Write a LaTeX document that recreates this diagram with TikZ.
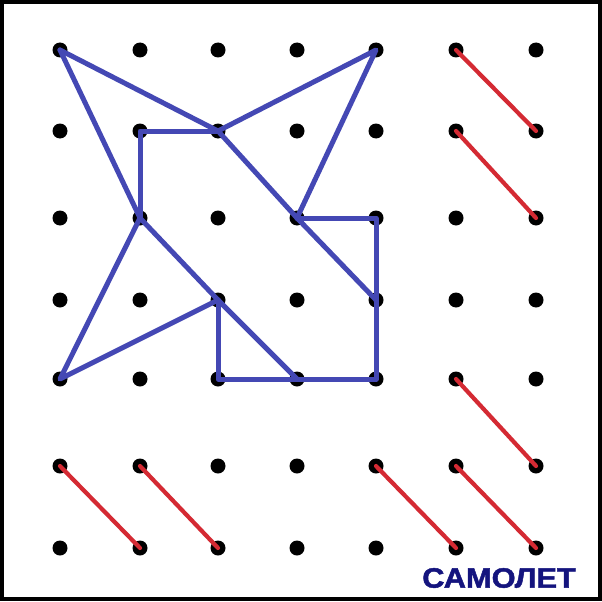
\documentclass[tikz,border=0pt]{standalone}
\usepackage{fontspec}
\setmainfont{Liberation Sans}
\newfontfamily\heavyfont[FakeBold=1.6]{Liberation Sans Bold}
\begin{document}
\begin{tikzpicture}[x=1pt,y=-1pt,
  dotst/.style={circle,fill=black,inner sep=0pt,minimum size=15pt},
  blueln/.style={draw=bluec,line width=5pt,line cap=round,line join=round},
  redln/.style={draw=redc,line width=4.2pt,line cap=round},
  frame/.style={draw=black,line width=4pt}]
\definecolor{bluec}{HTML}{4448B4}
\definecolor{redc}{HTML}{D42A33}
\definecolor{navy}{HTML}{14147E}
\useasboundingbox (0,0) rectangle (602,602);
\fill[white] (0,0) rectangle (602,602);
\draw[frame] (2,2) rectangle (600,599);
% grid dots
\foreach \c/\xx in {0/60,1/140,2/218,3/297,4/376,5/456,6/536}{
  \foreach \r/\yy in {0/50,1/131,2/218,3/300,4/379,5/466,6/548}{
    \node[dotst] (d\c\r) at (\xx,\yy) {};
  }
}
% blue figure
\draw[blueln] (d00.center) -- (d21.center) -- (d40.center) -- (d32.center);
\draw[blueln] (d00.center) -- (d12.center) -- (d04.center) -- (d23.center);
\draw[blueln] (d12.center) -- (d11.center) -- (d21.center);
\draw[blueln] (d21.center) -- (d32.center) -- (d43.center);
\draw[blueln] (d32.center) -- (d42.center) -- (d44.center) -- (d24.center) -- (d23.center);
\draw[blueln] (d12.center) -- (d23.center) -- (d34.center);
% red segments
\draw[redln] (d50.center) -- (d61.center);
\draw[redln] (d51.center) -- (d62.center);
\draw[redln] (d54.center) -- (d65.center);
\draw[redln] (d05.center) -- (d16.center);
\draw[redln] (d15.center) -- (d26.center);
\draw[redln] (d45.center) -- (d56.center);
\draw[redln] (d55.center) -- (d66.center);
% label
\node[text=navy,font=\heavyfont\fontsize{28}{30}\selectfont,inner sep=0pt,xscale=1.1] (lbl) at (499,578) {САМОЛЕТ};
\end{tikzpicture}
\end{document}
